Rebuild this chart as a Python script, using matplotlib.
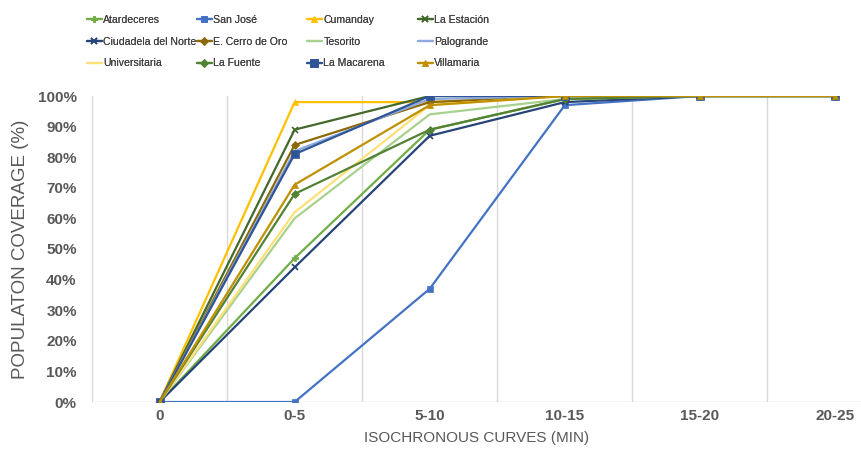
import matplotlib
matplotlib.use("Agg")
import matplotlib.pyplot as plt
from matplotlib.ticker import PercentFormatter

plt.rcParams['font.family'] = ['Liberation Sans', 'DejaVu Sans']

categories = ["0", "0-5", "5-10", "10-15", "15-20", "20-25"]

series_names = ["Atardeceres", "San José", "Cumanday", "La Estación",
                "Ciudadela del Norte", "E. Cerro de Oro", "Tesorito", "Palogrande",
                "Universitaria", "La Fuente", "La Macarena", "Villamaria"]

atardeceres = [0, 47, 89, 99, 100, 100]
san_jose = [0, 0, 37, 97, 100, 100]
cumanday = [0, 98, 98, 100, 100, 100]
la_estacion = [0, 89, 100, 100, 100, 100]
ciudadela = [0, 44, 87, 98, 100, 100]
cerro_oro = [0, 84, 98, 100, 100, 100]
tesorito = [0, 60, 94, 99, 100, 100]
palogrande = [0, 82, 99, 100, 100, 100]
universitaria = [0, 62, 97, 100, 100, 100]
la_fuente = [0, 68, 89, 99, 100, 100]
la_macarena = [0, 81, 100, 100, 100, 100]
villamaria = [0, 71, 97, 100, 100, 100]

values = [atardeceres, san_jose, cumanday, la_estacion, ciudadela, cerro_oro,
          tesorito, palogrande, universitaria, la_fuente, la_macarena, villamaria]

colors = ["#70AD47", "#4472C4", "#FFC000", "#43682B", "#264478", "#8C6A0A",
          "#A9D18E", "#8FAADC", "#FFE07A", "#548235", "#2F5597", "#BF9000"]
markers = ["P", "s", "^", "x", "x", "D", None, None, None, "D", "s", "^"]
msizes = [4, 5, 5, 5, 5, 4, 0, 0, 0, 4, 6, 5]

fig = plt.figure(figsize=(8.62, 4.59), dpi=100)
ax = fig.add_axes([92/862, 1-402/459, 1 - 92/862, (402-96)/459])

x = list(range(len(categories)))
handles = []
for name, vals, c, m, ms in zip(series_names, values, colors, markers, msizes):
    h, = ax.plot(x, [v/100 for v in vals], color=c, marker=m, markersize=ms,
                 linewidth=1.6, label=name, markeredgewidth=1.2 if m == "x" else 0.5,
                 solid_capstyle='round')
    handles.append(h)

ax.set_xlim(-0.5, 5.2)
ax.set_ylim(0, 1.0)
ax.set_xticks(x)
ax.set_xticklabels(categories)
ax.set_yticks([i/10 for i in range(11)])
ax.yaxis.set_major_formatter(PercentFormatter(1.0, decimals=0))
for b in [-0.5, 0.5, 1.5, 2.5, 3.5, 4.5]:
    ax.axvline(b, color="#d9d9d9", linewidth=1, zorder=0)
ax.axhline(0, color="#d9d9d9", linewidth=1, zorder=0)
for s in ax.spines.values():
    s.set_visible(False)
ax.tick_params(length=0, labelsize=11, colors="#595959")
ax.tick_params(axis="y", pad=11)
ax.tick_params(axis="x", pad=5)
for lab in ax.get_xticklabels() + ax.get_yticklabels():
    lab.set_fontweight("bold")
ax.set_xlabel("ISOCHRONOUS CURVES (MIN)", fontsize=11, color="#595959", labelpad=6)
ax.set_ylabel("POPULATON COVERAGE (%)", fontsize=13.5, color="#595959", labelpad=6)

# legend: 4 equal-width columns, row-major order
col_x = [87, 197, 307, 418]
for ci in range(4):
    idx = [ci, ci + 4, ci + 8]
    leg = fig.legend([handles[i] for i in idx], [series_names[i] for i in idx],
                     ncol=1, loc="upper left",
                     bbox_to_anchor=(col_x[ci]/862, 1 - 15/459),
                     frameon=False, prop={"size": 7.6},
                     handlelength=1.4, handletextpad=0.15, labelspacing=1.1,
                     borderpad=0, borderaxespad=0)
    for t in leg.get_texts():
        t.set_color("#404040")
    fig.add_artist(leg)

fig.savefig("out.png", dpi=100)
